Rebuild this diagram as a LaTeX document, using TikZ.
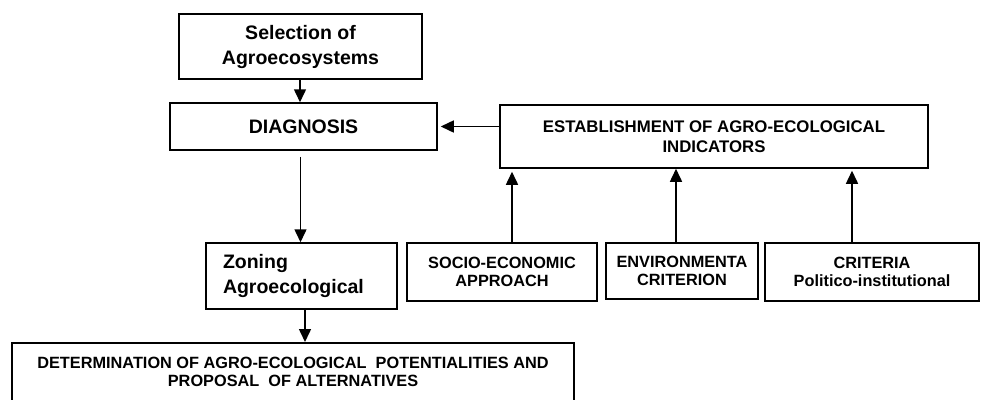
\documentclass[tikz,border=0pt]{standalone}
\usepackage{fontspec}
\setmainfont{Liberation Sans}
\usetikzlibrary{arrows.meta}
\newcommand\mySmallFont{\fontsize{16.3}{18}\selectfont\bfseries}
\newcommand\myBigFont{\fontsize{19.5}{25}\selectfont\bfseries}
\begin{document}
\begin{tikzpicture}[x=1pt,y=-1pt,
  box/.style={draw, line width=1.5pt, inner sep=0pt, align=center, font=\mySmallFont},
  bigbox/.style={box, font=\myBigFont},
  arr/.style={-{Triangle[length=13pt,width=12pt]}, line width=1.5pt}]
\useasboundingbox (0,0) rectangle (984,399);
\clip (0,0) rectangle (984,399);
\fill[white] (0,0) rectangle (984,399);

\node[bigbox, minimum width=243pt, minimum height=65pt] (sel) at (300.5,46.5) {Selection of\\Agroecosystems};
\node[bigbox, minimum width=267pt, minimum height=47pt] (diag) at (303.5,126.5) {DIAGNOSIS};
\node[box, minimum width=428pt, minimum height=63pt, font=\fontsize{16.8}{20}\selectfont\bfseries] (est) at (714,136.5) {ESTABLISHMENT OF AGRO-ECOLOGICAL\\INDICATORS};
\node[bigbox, align=left, text width=157pt, inner xsep=17pt, minimum height=66pt] (zon) at (301.5,276) {Zoning\\Agroecological};
\node[box, minimum width=190pt, minimum height=58pt] (soc) at (502,272) {SOCIO-ECONOMIC\\APPROACH};
\node[box, minimum width=152pt, minimum height=56pt] (env) at (682,271) {ENVIRONMENTA\\CRITERION};
\node[box, minimum width=214pt, minimum height=58pt] (crit) at (872,272) {CRITERIA\\Politico-institutional};
\node[box, anchor=north, minimum width=562pt, inner ysep=14pt, text depth=40pt] (det) at (293,342) {DETERMINATION OF AGRO-ECOLOGICAL\ \ POTENTIALITIES AND\\PROPOSAL\ \ OF ALTERNATIVES};

\draw[arr] ([xshift=-0.5pt]sel.south) -- ([xshift=-0.5pt]sel.south |- diag.north);
\draw[arr, shorten >=3pt] (est.west |- diag.east) -- (diag.east);
\draw[arr, shorten <=6pt] (diag.south -| sel.south) -- (zon.north -| sel.south);
\draw[arr] ([xshift=3.5pt]zon.south) -- ([xshift=3.5pt]zon.south |- det.north);
\draw[arr, shorten >=3pt] ([xshift=10pt]soc.north) -- ([xshift=10pt]soc.north |- est.south);
\draw[arr] ([xshift=-6pt]env.north) -- ([xshift=-6pt]env.north |- est.south);
\draw[arr, shorten >=2pt] ([xshift=-20pt]crit.north) -- ([xshift=-20pt]crit.north |- est.south);
\end{tikzpicture}
\end{document}
